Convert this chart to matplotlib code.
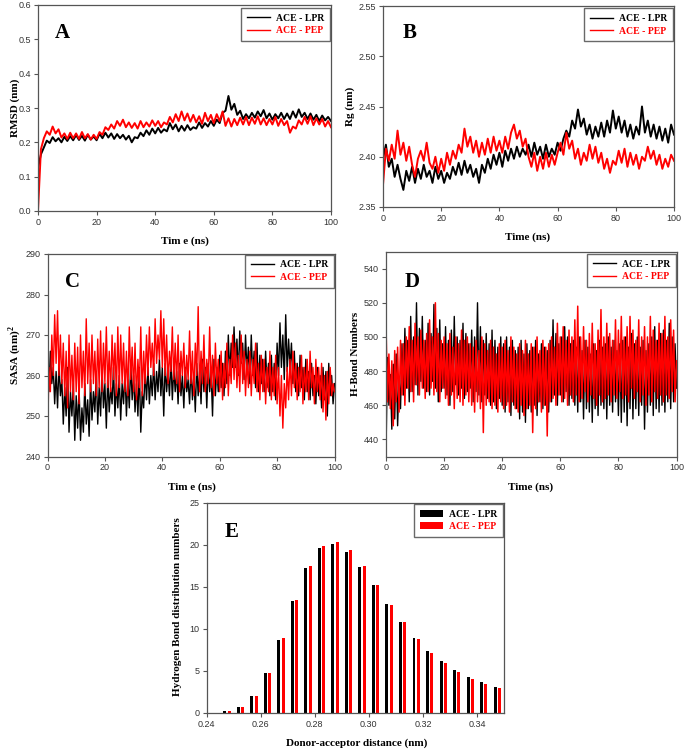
import matplotlib
matplotlib.use("Agg")
import matplotlib.pyplot as plt
from matplotlib.patches import Patch
from matplotlib.lines import Line2D
import numpy as np

plt.rcParams['font.family'] = ['Liberation Sans', 'DejaVu Sans']
plt.rcParams['mathtext.fontset'] = 'custom'
plt.rcParams['mathtext.rm'] = 'Liberation Serif:bold'
plt.rcParams['mathtext.bf'] = 'Liberation Serif:bold'

# ---------------- data ----------------
time_1ns = np.arange(0, 101, 1.0)
time_half = np.arange(0, 100.5, 0.5)

rmsd_lpr = [0.125, 0.165, 0.185, 0.205, 0.198, 0.215, 0.203, 0.212, 0.200, 0.216,
            0.204, 0.218, 0.206, 0.221, 0.207, 0.219, 0.205, 0.222, 0.208, 0.217,
            0.206, 0.225, 0.212, 0.228, 0.214, 0.226, 0.210, 0.224, 0.212, 0.222,
            0.208, 0.219, 0.200, 0.215, 0.212, 0.228, 0.218, 0.235, 0.222, 0.240,
            0.226, 0.242, 0.228, 0.238, 0.232, 0.256, 0.238, 0.252, 0.232, 0.248,
            0.234, 0.250, 0.236, 0.244, 0.240, 0.258, 0.242, 0.256, 0.246, 0.262,
            0.248, 0.266, 0.256, 0.286, 0.292, 0.335, 0.295, 0.312, 0.280, 0.292,
            0.268, 0.282, 0.270, 0.286, 0.272, 0.290, 0.276, 0.294, 0.270, 0.284,
            0.266, 0.282, 0.270, 0.286, 0.268, 0.284, 0.268, 0.290, 0.272, 0.296,
            0.274, 0.286, 0.268, 0.284, 0.266, 0.280, 0.262, 0.278, 0.264, 0.274,
            0.262]
rmsd_pep = [0.000, 0.180, 0.212, 0.232, 0.222, 0.246, 0.226, 0.238, 0.214, 0.226,
            0.210, 0.228, 0.212, 0.226, 0.210, 0.230, 0.212, 0.224, 0.208, 0.222,
            0.210, 0.230, 0.222, 0.244, 0.236, 0.252, 0.240, 0.262, 0.248, 0.266,
            0.244, 0.258, 0.242, 0.256, 0.240, 0.262, 0.244, 0.258, 0.246, 0.264,
            0.248, 0.262, 0.244, 0.258, 0.252, 0.274, 0.258, 0.282, 0.262, 0.290,
            0.264, 0.284, 0.260, 0.280, 0.258, 0.276, 0.254, 0.286, 0.262, 0.280,
            0.256, 0.282, 0.262, 0.290, 0.248, 0.270, 0.246, 0.268, 0.250, 0.272,
            0.252, 0.274, 0.250, 0.272, 0.254, 0.276, 0.252, 0.270, 0.250, 0.268,
            0.252, 0.274, 0.248, 0.268, 0.250, 0.262, 0.228, 0.246, 0.240, 0.264,
            0.252, 0.274, 0.254, 0.276, 0.250, 0.270, 0.252, 0.268, 0.246, 0.262,
            0.244]

rg_lpr = [2.398, 2.412, 2.390, 2.398, 2.380, 2.392, 2.378, 2.367, 2.386, 2.376,
          2.390, 2.374, 2.388, 2.378, 2.392, 2.380, 2.386, 2.374, 2.390, 2.378,
          2.386, 2.374, 2.384, 2.378, 2.390, 2.382, 2.394, 2.382, 2.396, 2.384,
          2.392, 2.380, 2.388, 2.374, 2.392, 2.384, 2.398, 2.388, 2.402, 2.392,
          2.404, 2.390, 2.406, 2.396, 2.408, 2.398, 2.410, 2.400, 2.408, 2.402,
          2.412, 2.400, 2.414, 2.402, 2.410, 2.398, 2.412, 2.400, 2.408, 2.402,
          2.414, 2.406, 2.418, 2.426, 2.420, 2.436, 2.428, 2.447, 2.430, 2.438,
          2.422, 2.432, 2.418, 2.430, 2.420, 2.434, 2.420, 2.436, 2.424, 2.446,
          2.428, 2.440, 2.424, 2.436, 2.420, 2.432, 2.418, 2.430, 2.422, 2.450,
          2.424, 2.436, 2.420, 2.432, 2.418, 2.430, 2.416, 2.428, 2.414, 2.432,
          2.422]
rg_pep = [2.372, 2.408, 2.396, 2.412, 2.398, 2.426, 2.402, 2.414, 2.396, 2.410,
          2.392, 2.380, 2.398, 2.406, 2.396, 2.414, 2.394, 2.388, 2.400, 2.384,
          2.398, 2.386, 2.404, 2.392, 2.406, 2.398, 2.412, 2.404, 2.428, 2.410,
          2.420, 2.404, 2.416, 2.400, 2.414, 2.402, 2.418, 2.404, 2.420, 2.406,
          2.416, 2.404, 2.420, 2.408, 2.424, 2.432, 2.418, 2.426, 2.410, 2.418,
          2.400, 2.390, 2.404, 2.386, 2.400, 2.388, 2.404, 2.390, 2.402, 2.392,
          2.404, 2.414, 2.402, 2.424, 2.408, 2.416, 2.398, 2.408, 2.392, 2.404,
          2.396, 2.412, 2.398, 2.410, 2.394, 2.404, 2.388, 2.398, 2.384, 2.396,
          2.392, 2.406, 2.394, 2.408, 2.390, 2.404, 2.392, 2.402, 2.388, 2.400,
          2.396, 2.410, 2.398, 2.406, 2.392, 2.402, 2.388, 2.398, 2.390, 2.402,
          2.396]

sasa_lpr = [268, 256, 266, 258, 262, 253, 261, 252, 263, 255,
            259, 248, 257, 250, 262, 246, 256, 250, 258, 244,
            255, 247, 257, 244, 252, 246, 258, 248, 254, 245,
            259, 249, 256, 251, 261, 248, 257, 250, 262, 252,
            258, 247, 260, 251, 257, 253, 262, 250, 258, 252,
            260, 249, 258, 253, 261, 250, 259, 252, 263, 254,
            260, 251, 258, 250, 262, 246, 256, 252, 261, 254,
            262, 253, 260, 255, 263, 254, 261, 256, 264, 255,
            262, 250, 263, 256, 261, 255, 264, 254, 262, 256,
            261, 253, 263, 255, 260, 252, 262, 256, 259, 253,
            262, 254, 260, 251, 263, 255, 261, 253, 264, 256,
            262, 252, 263, 256, 261, 250, 264, 255, 262, 256,
            265, 257, 263, 255, 266, 258, 270, 260, 268, 262,
            272, 262, 269, 260, 271, 263, 268, 259, 270, 261,
            267, 258, 270, 260, 266, 257, 268, 256, 265, 258,
            264, 256, 266, 257, 263, 255, 265, 256, 263, 254,
            268, 260, 273, 262, 270, 259, 275, 261, 269, 262,
            268, 258, 266, 256, 263, 255, 265, 257, 262, 254,
            264, 256, 261, 254, 263, 255, 260, 253, 262, 255,
            260, 252, 262, 254, 261, 250, 263, 255, 260, 253,
            258]
sasa_pep = [242, 262, 256, 270, 260, 275, 263, 276, 260, 270,
            258, 268, 255, 266, 252, 270, 256, 265, 254, 268,
            256, 267, 253, 270, 257, 266, 255, 274, 258, 268,
            256, 270, 258, 266, 255, 269, 257, 271, 256, 268,
            258, 272, 257, 266, 256, 270, 259, 268, 255, 272,
            257, 270, 258, 268, 256, 266, 255, 272, 259, 267,
            256, 268, 254, 264, 257, 272, 255, 266, 258, 270,
            260, 272, 262, 268, 260, 274, 263, 270, 264, 276,
            262, 274, 260, 270, 258, 266, 261, 272, 259, 268,
            258, 270, 256, 266, 260, 268, 257, 265, 259, 271,
            258, 266, 255, 268, 260, 277, 256, 266, 258, 270,
            256, 264, 258, 272, 257, 265, 255, 268, 258, 264,
            256, 266, 254, 263, 257, 268, 255, 264, 258, 270,
            259, 268, 257, 265, 256, 270, 258, 266, 255, 264,
            257, 266, 255, 264, 258, 268, 256, 263, 254, 265,
            256, 264, 253, 262, 256, 266, 254, 262, 255, 265,
            253, 262, 250, 260, 247, 258, 252, 262, 254, 264,
            255, 266, 257, 263, 254, 262, 256, 265, 253, 262,
            256, 264, 254, 266, 257, 262, 253, 264, 256, 262,
            254, 263, 251, 260, 249, 261, 253, 262, 255, 258,
            256]

hb_lpr = [432, 488, 460, 478, 446, 484, 452, 490, 448, 476,
          458, 496, 466, 505, 470, 498, 462, 512, 468, 500,
          472, 520, 466, 505, 474, 512, 470, 498, 468, 508,
          466, 502, 474, 519, 470, 505, 462, 510, 468, 496,
          470, 506, 466, 498, 460, 504, 468, 512, 472, 500,
          466, 498, 470, 508, 464, 502, 468, 496, 470, 504,
          462, 500, 468, 520, 466, 506, 462, 498, 466, 502,
          464, 496, 460, 504, 462, 498, 458, 494, 464, 500,
          460, 496, 456, 500, 462, 494, 454, 498, 460, 492,
          458, 494, 452, 498, 456, 490, 450, 496, 458, 492,
          456, 494, 460, 498, 454, 490, 462, 496, 458, 494,
          460, 492, 456, 498, 462, 510, 466, 502, 460, 496,
          466, 500, 462, 506, 468, 500, 460, 496, 464, 498,
          460, 494, 456, 500, 462, 492, 452, 498, 458, 494,
          456, 490, 450, 496, 458, 492, 454, 498, 460, 494,
          458, 496, 452, 500, 460, 494, 456, 498, 462, 492,
          454, 496, 450, 498, 456, 500, 448, 494, 458, 502,
          452, 496, 458, 500, 454, 494, 460, 498, 446, 492,
          456, 496, 460, 500, 454, 506, 458, 498, 456, 502,
          460, 504, 456, 498, 462, 508, 458, 500, 462, 496,
          470]
hb_pep = [508, 462, 490, 458, 486, 448, 492, 462, 494, 456,
          498, 466, 496, 460, 500, 470, 506, 468, 498, 462,
          508, 472, 500, 466, 504, 470, 498, 464, 502, 468,
          510, 470, 500, 466, 520, 468, 502, 462, 498, 470,
          500, 464, 496, 460, 502, 466, 494, 458, 500, 464,
          496, 462, 504, 460, 498, 466, 500, 462, 496, 460,
          494, 456, 498, 462, 492, 458, 500, 444, 496, 460,
          492, 462, 498, 458, 494, 460, 490, 456, 496, 462,
          494, 458, 498, 460, 492, 456, 500, 462, 494, 458,
          490, 456, 496, 460, 492, 454, 498, 458, 490, 460,
          496, 444, 494, 458, 500, 462, 492, 456, 498, 460,
          494, 442, 496, 462, 500, 464, 494, 460, 508, 466,
          500, 462, 506, 464, 498, 460, 504, 466, 500, 462,
          510, 466, 518, 462, 500, 464, 506, 468, 498, 462,
          502, 466, 508, 464, 496, 460, 504, 466, 516, 462,
          500, 464, 508, 466, 502, 462, 498, 466, 510, 464,
          504, 468, 512, 464, 500, 466, 506, 462, 512, 470,
          504, 464, 498, 468, 510, 462, 500, 466, 506, 460,
          500, 466, 512, 462, 504, 468, 498, 464, 508, 466,
          502, 462, 512, 466, 500, 464, 510, 468, 504, 462,
          486]

hb_distance = [0.2475, 0.2525, 0.2575, 0.2625, 0.2675, 0.2725, 0.2775, 0.2825,
               0.2875, 0.2925, 0.2975, 0.3025, 0.3075, 0.3125, 0.3175, 0.3225,
               0.3275, 0.3325, 0.3375, 0.3425, 0.3475]
hbdist_lpr = [0.15, 0.7, 2.0, 4.7, 8.7, 13.3, 17.25, 19.55, 20.1, 19.15, 17.35,
              15.15, 12.9, 10.8, 8.9, 7.4, 6.1, 5.1, 4.2, 3.6, 3.05]
hbdist_pep = [0.15, 0.65, 2.0, 4.75, 8.85, 13.45, 17.5, 19.8, 20.35, 19.35, 17.5,
              15.2, 12.85, 10.75, 8.8, 7.15, 5.95, 4.9, 4.05, 3.4, 2.9]

labels = ["ACE - LPR", "ACE - PEP"]
colors = ["#000000", "#ff0000"]

# ---------------- figure ----------------
W, H = 685, 751
fig = plt.figure(figsize=(W / 100, H / 100), dpi=100)


def px_axes(l, t, r, b):
    return fig.add_axes([l / W, 1 - b / H, (r - l) / W, (b - t) / H])


def fpos(x, y):
    return (x / W, 1 - y / H)


SERIF = 'Liberation Serif'
SPINE = '#555555'


def style(ax):
    for s in ax.spines.values():
        s.set_color(SPINE)
        s.set_linewidth(0.9)
    ax.tick_params(direction='out', length=3, width=0.8, color=SPINE,
                   labelsize=6.5, labelcolor='#333333', pad=2)


def add_legend(ax, handles, dx, dy):
    bb = ax.get_position()
    wpx = bb.width * W
    hpx = bb.height * H
    leg = ax.legend(handles, labels, loc='upper right',
                    bbox_to_anchor=(1 - dx / wpx, 1 - dy / hpx),
                    borderaxespad=0, frameon=True, fancybox=False,
                    prop=dict(family=SERIF, weight='bold', size=7),
                    borderpad=0.6, labelspacing=0.35, handlelength=2.4,
                    handletextpad=0.6)
    leg.get_frame().set_edgecolor('#444444')
    leg.get_frame().set_linewidth(1.0)
    for t, c in zip(leg.get_texts(), colors):
        t.set_color(c)
    return leg


def set_labels(ax, xl, xpos, yl, ypos):
    ax.set_xlabel(xl, family=SERIF, weight='bold', fontsize=8)
    ax.xaxis.set_label_coords(*fpos(*xpos), transform=fig.transFigure)
    ax.xaxis.label.set_va('center')
    ax.set_ylabel(yl, family=SERIF, weight='bold', fontsize=8)
    ax.yaxis.set_label_coords(*fpos(*ypos), transform=fig.transFigure)
    ax.yaxis.label.set_va('center')


def letter(ch, x, y):
    fig.text(*fpos(x, y), ch, ha='center', va='center', family=SERIF,
             weight='bold', fontsize=15)


line_handles = [Line2D([], [], color=c, lw=1.0) for c in colors]

# A: RMSD
axA = px_axes(38, 5, 331, 211)
axA.plot(time_1ns, rmsd_lpr, color=colors[0], lw=1.4)
axA.plot(time_1ns, rmsd_pep, color=colors[1], lw=1.4)
axA.set_xlim(0, 100)
axA.set_ylim(0, 0.6)
axA.set_xticks(range(0, 101, 20))
axA.set_yticks(np.arange(0, 0.61, 0.1))
axA.yaxis.set_major_formatter(matplotlib.ticker.FormatStrFormatter('%.1f'))
style(axA)
add_legend(axA, line_handles, 1, 3)
set_labels(axA, "Tim e (ns)", (185, 241), "RMSD (nm)", (15, 108))
letter("A", 62, 33)

# B: Rg
axB = px_axes(383, 6, 674, 207)
axB.plot(time_1ns, rg_lpr, color=colors[0], lw=1.4)
axB.plot(time_1ns, rg_pep, color=colors[1], lw=1.4)
axB.set_xlim(0, 100)
axB.set_ylim(2.35, 2.55)
axB.set_xticks(range(0, 101, 20))
axB.set_yticks(np.arange(2.35, 2.551, 0.05))
axB.yaxis.set_major_formatter(matplotlib.ticker.FormatStrFormatter('%.2f'))
style(axB)
add_legend(axB, line_handles, 0.7, 2.3)
set_labels(axB, "Time (ns)", (528, 237), "Rg (nm)", (350, 106))
letter("B", 410, 33)

# C: SASA
axC = px_axes(47.5, 254, 334.5, 456.5)
axC.plot(time_half, sasa_lpr, color=colors[0], lw=1.0)
axC.plot(time_half, sasa_pep, color=colors[1], lw=1.0)
axC.set_xlim(0, 100)
axC.set_ylim(240, 290)
axC.set_xticks(range(0, 101, 20))
axC.set_yticks(range(240, 291, 10))
style(axC)
add_legend(axC, line_handles, 0.5, 0.5)
set_labels(axC, "Tim e (ns)", (191.5, 487), r"SASA (nm)$^{\mathbf{2}}$", (15, 355))
letter("C", 73, 282)

# D: H-bond numbers
axD = px_axes(386, 251.5, 676.5, 456.5)
axD.plot(time_half, hb_lpr, color=colors[0], lw=1.0)
axD.plot(time_half, hb_pep, color=colors[1], lw=1.1)
axD.set_xlim(0, 100)
axD.set_ylim(430, 550)
axD.set_xticks(range(0, 101, 20))
axD.set_yticks(range(440, 541, 20))
style(axD)
add_legend(axD, line_handles, 0.5, 2.5)
set_labels(axD, "Time (ns)", (531, 487), "H-Bond Numbers", (355, 354))
letter("D", 412, 282)

# E: H-bond distance distribution
axE = px_axes(206.7, 502.7, 504, 712.7)
bw = 0.0011
off = 0.0008
axE.bar([d - off for d in hb_distance], hbdist_lpr, width=bw, color=colors[0], linewidth=0)
axE.bar([d + off for d in hb_distance], hbdist_pep, width=bw, color=colors[1], linewidth=0)
axE.set_xlim(0.24, 0.35)
axE.set_ylim(0, 25)
axE.set_xticks(np.arange(0.24, 0.341, 0.02))
axE.xaxis.set_major_formatter(matplotlib.ticker.FormatStrFormatter('%.2f'))
axE.set_yticks(range(0, 26, 5))
style(axE)
bar_handles = [Patch(facecolor=c, edgecolor='none') for c in colors]
add_legend(axE, bar_handles, 1, 1.3)
set_labels(axE, "Donor-acceptor distance (nm)", (357, 743),
           "Hydrogen Bond distribution numbers", (177, 607))
letter("E", 232, 532)

fig.savefig("out.png", dpi=100)
